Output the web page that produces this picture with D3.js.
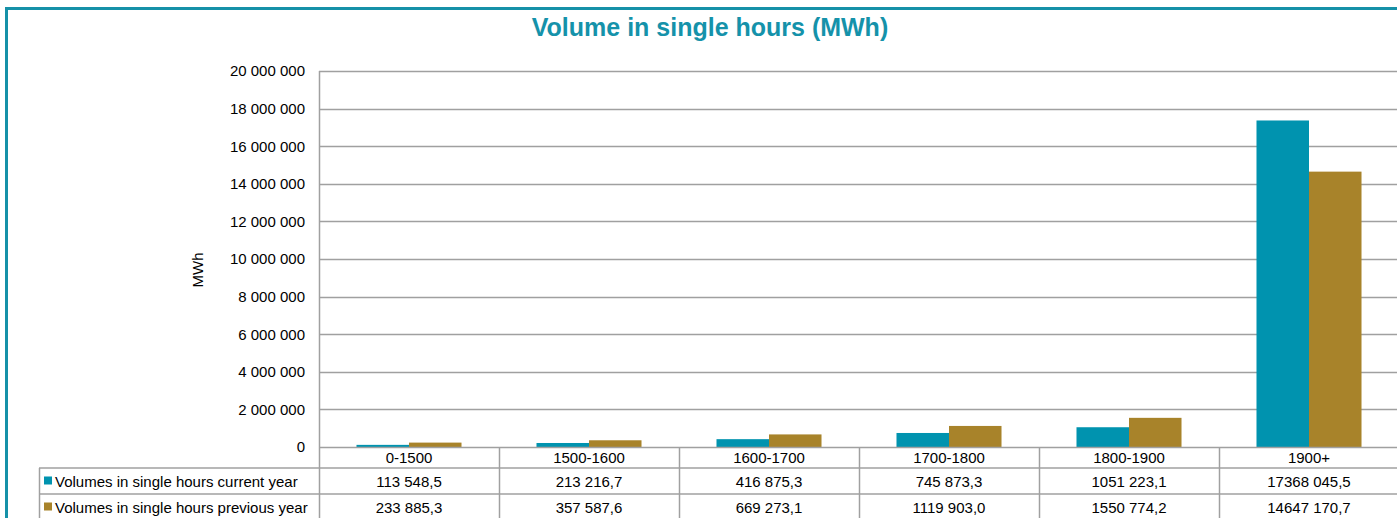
<!DOCTYPE html>
<html>
<head>
<meta charset="utf-8">
<script src="https://cdnjs.cloudflare.com/ajax/libs/d3/7.8.5/d3.min.js"></script>
<style>
  body { margin: 0; background: #fff; overflow: hidden; }
  text { font-family: "Liberation Sans", Arial, sans-serif; }
</style>
</head>
<body>
<div id="chart"></div>
<script>
var categories = ["0-1500", "1500-1600", "1600-1700", "1700-1800", "1800-1900", "1900+"];
var seriesNames = ["Volumes in single hours current year", "Volumes in single hours previous year"];
var currentYear = [113548.5, 213216.7, 416875.3, 745873.3, 1051223.1, 17368045.5];
var previousYear = [233885.3, 357587.6, 669273.1, 1119903.0, 1550774.2, 14647170.7];
var yTicks = [0, 2000000, 4000000, 6000000, 8000000, 10000000, 12000000, 14000000, 16000000, 18000000, 20000000];

var colors = ["#0093af", "#a8832a"];
var gridColor = "#a0a0a0";
var fs = "15px";

var W = 1397, H = 518;
var plot = { left: 319, top: 71, bottom: 447, colW: 180 };
var rowY = [447.5, 468, 494, 520];
var tableLeft = 39;

var svg = d3.select("#chart")
    .append("svg")
    .attr("width", W)
    .attr("height", H);

// outer frame
svg.append("rect")
    .attr("x", 6.5)
    .attr("y", 8.5)
    .attr("width", W + 20)
    .attr("height", H + 20)
    .attr("fill", "none")
    .attr("stroke", "#1691a8")
    .attr("stroke-width", 3);

svg.append("text")
    .attr("x", 710)
    .attr("y", 36)
    .attr("text-anchor", "middle")
    .style("font-size", "25px")
    .style("font-weight", "bold")
    .style("fill", "#1592aa")
    .text("Volume in single hours (MWh)");

var x = d3.scaleBand()
    .domain(categories)
    .range([plot.left, plot.left + plot.colW * categories.length]);

var xs = d3.scaleBand()
    .domain([0, 1])
    .range([0, x.bandwidth()])
    .paddingOuter(0.714);

var y = d3.scaleLinear()
    .domain([0, 20000000])
    .range([plot.bottom, plot.top]);

var axisFmt = d3.formatLocale({ decimal: ",", thousands: " ", grouping: [3], currency: ["", ""] }).format(",d");
var tableFmt = d3.formatLocale({ decimal: ",", thousands: " ", grouping: [3, 12], currency: ["", ""] }).format(",.1f");

// gridlines
svg.append("g")
    .selectAll("line")
    .data(yTicks.slice(1))
    .join("line")
    .attr("x1", plot.left)
    .attr("x2", W + 10)
    .attr("y1", function (d) { return Math.round(y(d)) + 0.5; })
    .attr("y2", function (d) { return Math.round(y(d)) + 0.5; })
    .attr("stroke", gridColor)
    .attr("stroke-width", 1.5);

// y axis
var yAxis = svg.append("g")
    .attr("transform", "translate(" + plot.left + ",0)")
    .call(d3.axisLeft(y).tickValues(yTicks).tickFormat(axisFmt).tickSize(0).tickPadding(14));
yAxis.select(".domain").remove();
yAxis.selectAll("text")
    .style("font-size", fs)
    .style("font-family", "'Liberation Sans', Arial, sans-serif")
    .attr("fill", "#000");

svg.append("text")
    .attr("transform", "translate(203,270) rotate(-90)")
    .attr("text-anchor", "middle")
    .style("font-size", fs)
    .text("MWh");

// bars
var groups = svg.append("g")
    .selectAll("g")
    .data(categories)
    .join("g")
    .attr("transform", function (d) { return "translate(" + x(d) + ",0)"; });

groups.selectAll("rect")
    .data(function (d, i) { return [currentYear[i], previousYear[i]]; })
    .join("rect")
    .attr("x", function (d, j) { return xs(j); })
    .attr("width", xs.bandwidth())
    .attr("y", function (d) { return y(d); })
    .attr("height", function (d) { return plot.bottom - y(d); })
    .attr("fill", function (d, j) { return colors[j]; });

// table lines
var t = svg.append("g").attr("stroke", gridColor).attr("stroke-width", 1.5);
t.append("line")
    .attr("x1", plot.left).attr("x2", W + 10)
    .attr("y1", rowY[0]).attr("y2", rowY[0]);
t.append("line")
    .attr("x1", tableLeft).attr("x2", W + 10)
    .attr("y1", rowY[1]).attr("y2", rowY[1]);
t.append("line")
    .attr("x1", tableLeft).attr("x2", W + 10)
    .attr("y1", rowY[2]).attr("y2", rowY[2]);
t.append("line")
    .attr("x1", tableLeft + 0.5).attr("x2", tableLeft + 0.5)
    .attr("y1", rowY[1]).attr("y2", H + 5);
t.append("line")
    .attr("x1", plot.left + 0.5).attr("x2", plot.left + 0.5)
    .attr("y1", plot.top).attr("y2", H + 5);
t.selectAll(".col")
    .data(categories.slice(1))
    .join("line")
    .attr("class", "col")
    .attr("x1", function (d) { return x(d) + 0.5; })
    .attr("x2", function (d) { return x(d) + 0.5; })
    .attr("y1", rowY[0])
    .attr("y2", H + 5);

// category row
svg.append("g")
    .selectAll("text")
    .data(categories)
    .join("text")
    .attr("x", function (d) { return x(d) + x.bandwidth() / 2; })
    .attr("y", (rowY[0] + rowY[1]) / 2 + 5.5)
    .attr("text-anchor", "middle")
    .style("font-size", fs)
    .text(function (d) { return d; });

// data rows
[currentYear, previousYear].forEach(function (vals, r) {
    var cy = (rowY[r + 1] + rowY[r + 2]) / 2 + 5.5;
    svg.append("rect")
        .attr("x", 44)
        .attr("y", cy - 10)
        .attr("width", 8)
        .attr("height", 8)
        .attr("fill", colors[r]);
    svg.append("text")
        .attr("x", 55)
        .attr("y", cy)
        .style("font-size", fs)
        .text(seriesNames[r]);
    svg.append("g")
        .selectAll("text")
        .data(vals)
        .join("text")
        .attr("x", function (d, i) { return x(categories[i]) + x.bandwidth() / 2; })
        .attr("y", cy)
        .attr("text-anchor", "middle")
        .style("font-size", fs)
        .text(function (d) { return tableFmt(d); });
});
</script>
</body>
</html>
